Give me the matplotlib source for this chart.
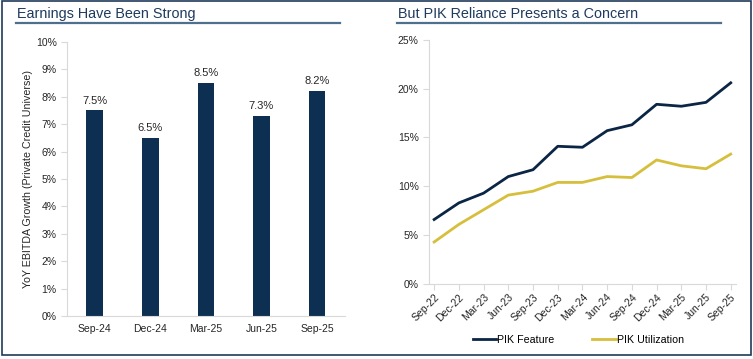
import matplotlib.pyplot as plt
from matplotlib.patches import Rectangle
from matplotlib.ticker import PercentFormatter

plt.rcParams['font.family'] = ['Liberation Sans', 'DejaVu Sans']

# left panel data
bar_cats = ['Sep-24', 'Dec-24', 'Mar-25', 'Jun-25', 'Sep-25']
ebitda_growth = [7.5, 6.5, 8.5, 7.3, 8.2]

# right panel data
quarters = ['Sep-22', 'Dec-22', 'Mar-23', 'Jun-23', 'Sep-23', 'Dec-23', 'Mar-24',
            'Jun-24', 'Sep-24', 'Dec-24', 'Mar-25', 'Jun-25', 'Sep-25']
pik_feature = [6.6, 8.3, 9.3, 11.0, 11.7, 14.1, 14.0, 15.7, 16.3, 18.4, 18.2, 18.6, 20.6]
pik_util = [4.3, 6.1, 7.6, 9.1, 9.5, 10.4, 10.4, 11.0, 10.9, 12.7, 12.1, 11.8, 13.3]

navy = '#0d2f52'
line_navy = '#0b2545'
gold = '#d6bf3c'
axis_gray = '#d9d9d9'
text_col = '#262626'
title_col = '#1f3a5f'

fig = plt.figure(figsize=(7.53, 3.59), dpi=100)

# outer frame
fig.patches.append(Rectangle((0.002, 0.012), 0.995, 0.984, transform=fig.transFigure,
                             fill=False, edgecolor='#1f3a5a', linewidth=1.2))

# titles with underline
fig.text(0.022, 0.962, 'Earnings Have Been Strong', fontsize=10.4, color=title_col, va='center')
fig.add_artist(plt.Line2D([0.021, 0.452], [0.935, 0.935], color='#4f6f8f', linewidth=1.6))
fig.text(0.529, 0.962, 'But PIK Reliance Presents a Concern', fontsize=10.4, color=title_col, va='center')
fig.add_artist(plt.Line2D([0.527, 0.957], [0.937, 0.937], color='#4f6f8f', linewidth=1.6))

def style(ax):
    for s in ['top', 'right']:
        ax.spines[s].set_visible(False)
    for s in ['left', 'bottom']:
        ax.spines[s].set_color(axis_gray)
        ax.spines[s].set_linewidth(0.8)
    ax.tick_params(colors=axis_gray, labelcolor=text_col, labelsize=7.5, length=4, width=0.8)

# left bar chart
ax1 = fig.add_axes([0.089, 0.12, 0.369, 0.763])
x = range(len(bar_cats))
bars = ax1.bar(x, ebitda_growth, width=0.3, color=navy)
for xi, v in zip(x, ebitda_growth):
    ax1.text(xi, v + 0.18, f'{v:.1f}%', ha='center', va='bottom', fontsize=8, color=text_col)
ax1.set_xlim(-0.5, 4.5)
ax1.set_ylim(0, 10)
ax1.set_yticks(range(0, 11))
ax1.yaxis.set_major_formatter(PercentFormatter(decimals=0))
ax1.set_xticks(list(x))
ax1.set_xticklabels(bar_cats)
ax1.set_ylabel('YoY EBITDA Growth (Private Credit Universe)', fontsize=7.7, color=text_col, labelpad=2)
style(ax1)
ax1.tick_params(axis='x', length=0, pad=6)

# right line chart
ax2 = fig.add_axes([0.570, 0.209, 0.407, 0.68])
xi2 = range(len(quarters))
ax2.plot(xi2, pik_feature, color=line_navy, linewidth=2, label='PIK Feature')
ax2.plot(xi2, pik_util, color=gold, linewidth=2, label='PIK Utilization')
ax2.set_xlim(-0.2, 12.2)
ax2.set_ylim(0, 25)
ax2.set_yticks(range(0, 26, 5))
ax2.yaxis.set_major_formatter(PercentFormatter(decimals=0))
ax2.set_xticks(list(xi2))
ax2.set_xticklabels(quarters, rotation=45, ha='right', rotation_mode='anchor')
style(ax2)
ax2.tick_params(axis='x', pad=2)
fig.legend(loc='center', bbox_to_anchor=(0.768, 0.053), ncol=2, frameon=False, fontsize=7.7,
           handlelength=2.2, handletextpad=0.1, columnspacing=3.5)

plt.savefig('out.png', dpi=100)
